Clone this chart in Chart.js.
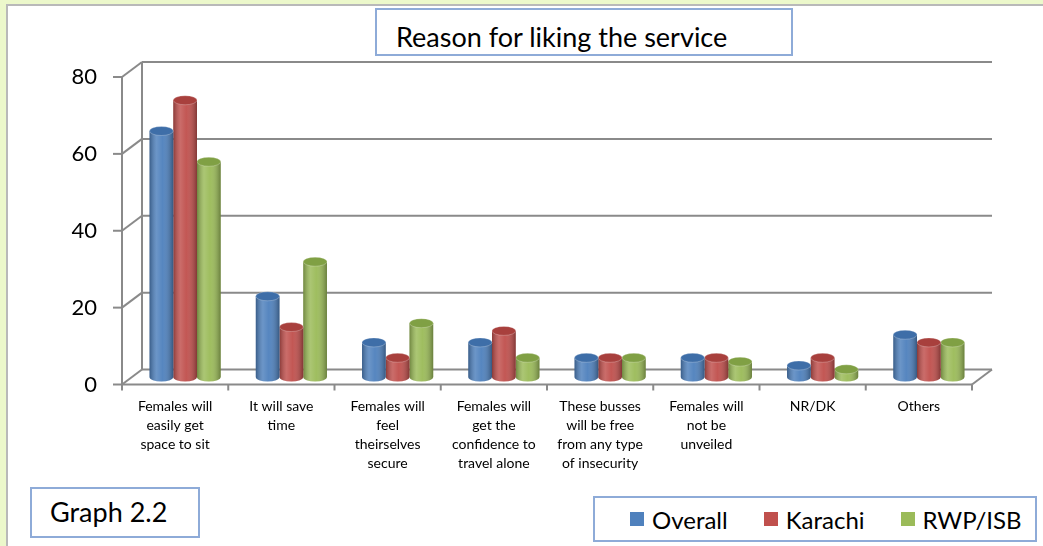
<!DOCTYPE html>
<html>
<head>
<meta charset="utf-8">
<script src="https://cdn.jsdelivr.net/npm/chart.js@4"></script>
<style>
  html, body { margin: 0; padding: 0; }
  body {
    width: 1043px; height: 546px; overflow: hidden; position: relative;
    background: #ecf8cb; font-family: Lato, "Open Sans", sans-serif;
  }
  #panel {
    position: absolute; left: 6px; top: 4px; right: 0; bottom: 0;
    background: #fff; border-left: 2px solid #b9b9b9; border-top: 2px solid #b9b9b9;
  }
  #wrap { position: absolute; left: 0; top: 0; width: 1043px; height: 546px; }
  .box {
    position: absolute; background: #fff; border: 2px solid #8eabd8;
    box-sizing: border-box; color: #000; white-space: nowrap;
  }
  #title { left: 375px; top: 8px; width: 418px; height: 48px; font-size: 27px; line-height: 30px; padding: 12px 0 0 19px; }
  #graphNo { left: 30px; top: 487px; width: 170px; height: 51px; font-size: 27px; line-height: 30px; padding: 8px 0 0 18px; }
  #legend { left: 593px; top: 496px; width: 444px; height: 46px; font-size: 24px; display: flex; align-items: center; padding-left: 35px; }
  #legend span.item { display: flex; align-items: center; margin-right: 36px; }
  #legend span.sw { width: 14px; height: 14px; margin-right: 8px; display: inline-block; }
</style>
</head>
<body>
<div id="panel"></div>
<div id="wrap"><canvas id="reasonChart"></canvas></div>
<div class="box" id="title">Reason for liking the service</div>
<div class="box" id="graphNo">Graph 2.2</div>
<div class="box" id="legend"></div>
<script>
const categories = [
  ["Females will", "easily get", "space to sit"],
  ["It will save", "time"],
  ["Females will", "feel", "theirselves", "secure"],
  ["Females will", "get the", "confidence to", "travel alone"],
  ["These busses", "will be free", "from any type", "of insecurity"],
  ["Females will", "not be", "unveiled"],
  "NR/DK",
  "Others"
];
const seriesNames = ["Overall", "Karachi", "RWP/ISB"];
const overall = [64, 21, 9, 9, 5, 5, 3, 11];
const karachi = [72, 13, 5, 12, 5, 5, 5, 9];
const rwpIsb = [56, 30, 14, 5, 5, 4, 2, 9];
const yTicks = [0, 20, 40, 60, 80];

const bodyColors = ["#4f81bd", "#c0504d", "#9bbb59"];
const capColors = ["#3e6ea8", "#a8403d", "#80a044"];

// depth of the 3D box; bars stand half way between front and back
const DEPTH_X = 20, DEPTH_Y = 15;

function line(ctx, x1, y1, x2, y2) {
  ctx.beginPath();
  ctx.moveTo(x1, y1);
  ctx.lineTo(x2, y2);
  ctx.stroke();
}

const frame3d = {
  id: "frame3d",
  beforeDatasetsDraw(chart) {
    const { ctx, chartArea: a, scales } = chart;
    const xs = scales.x, ys = scales.y;
    const dx = DEPTH_X / 2, dy = DEPTH_Y / 2;
    const y0 = ys.getPixelForValue(0);
    const yTop = ys.getPixelForValue(yTicks[yTicks.length - 1]);
    ctx.save();
    ctx.strokeStyle = "#8a8a8a";
    ctx.lineWidth = 2;
    // back wall gridlines + side wall diagonals
    yTicks.forEach((v) => {
      const py = ys.getPixelForValue(v);
      line(ctx, a.left - dx, py + dy, a.left + dx, py - dy);
      line(ctx, a.left + dx, py - dy, a.right + dx, py - dy);
      line(ctx, a.left - dx - 9, py + dy, a.left - dx, py + dy);
    });
    line(ctx, a.left + dx, yTop - dy, a.left + dx, y0 - dy);
    // front axis
    line(ctx, a.left - dx, yTop + dy, a.left - dx, y0 + dy);
    // floor
    line(ctx, a.left - dx, y0 + dy, a.right - dx, y0 + dy);
    line(ctx, a.right - dx, y0 + dy, a.right + dx, y0 - dy);
    const n = categories.length;
    for (let i = 0; i <= n; i++) {
      const px = a.left - dx + (i * (xs.right - xs.left)) / n;
      line(ctx, px, y0 + dy, px, y0 + dy + 6);
    }
    ctx.restore();
  },
  afterDatasetDraw(chart, args) {
    const { ctx } = chart;
    const i = args.index;
    args.meta.data.forEach((el) => {
      const { x, y, base, width } = el.getProps(["x", "y", "base", "width"], true);
      const l = x - width / 2, r = x + width / 2, ry = 4.5;
      const shade = ctx.createLinearGradient(l, 0, r, 0);
      shade.addColorStop(0, "rgba(0,0,0,0.28)");
      shade.addColorStop(0.3, "rgba(255,255,255,0.16)");
      shade.addColorStop(0.55, "rgba(255,255,255,0.04)");
      shade.addColorStop(1, "rgba(0,0,0,0.32)");
      ctx.save();
      // rounded bottom
      ctx.fillStyle = bodyColors[i];
      ctx.beginPath();
      ctx.ellipse(x, base, width / 2, ry, 0, 0, Math.PI);
      ctx.fill();
      ctx.fillStyle = shade;
      ctx.fill();
      ctx.fillRect(l, y, width, base - y);
      // top cap
      ctx.beginPath();
      ctx.ellipse(x, y, width / 2, ry, 0, 0, Math.PI * 2);
      ctx.fillStyle = capColors[i];
      ctx.fill();
      ctx.strokeStyle = "rgba(255,255,255,0.25)";
      ctx.lineWidth = 1;
      ctx.stroke();
      ctx.restore();
    });
  }
};

const seriesValues = [overall, karachi, rwpIsb];

new Chart(document.getElementById("reasonChart"), {
  type: "bar",
  data: {
    labels: categories,
    datasets: seriesNames.map((name, i) => ({
      label: name,
      data: seriesValues[i],
      backgroundColor: bodyColors[i],
      borderWidth: 0,
      categoryPercentage: 0.67,
      barPercentage: 1.0
    }))
  },
  options: {
    responsive: true,
    maintainAspectRatio: false,
    animation: false,
    layout: { padding: { top: 69.5, right: 61, left: 0, bottom: 0 } },
    plugins: { legend: { display: false }, tooltip: { enabled: false } },
    scales: {
      x: {
        grid: { display: false, drawTicks: false },
        border: { display: false },
        afterFit: (s) => { s.height = 169; },
        ticks: {
          autoSkip: false, maxRotation: 0, padding: 20, labelOffset: -10,
          color: "#000", font: { family: "Lato", size: 14, lineHeight: 1.36 }
        }
      },
      y: {
        min: 0, max: 80,
        grid: { display: false, drawTicks: false },
        border: { display: false },
        afterFit: (s) => { s.width = 132; },
        ticks: {
          stepSize: 20, padding: 35, labelOffset: 7.5,
          color: "#000", font: { family: "Lato", size: 22 }
        }
      }
    }
  },
  plugins: [frame3d]
});

// legend entries
const legendEl = document.getElementById("legend");
legendEl.innerHTML = seriesNames
  .map((n, i) => `<span class="item"><span class="sw" style="background:${bodyColors[i]}"></span>${n}</span>`)
  .join("");
</script>
</body>
</html>
